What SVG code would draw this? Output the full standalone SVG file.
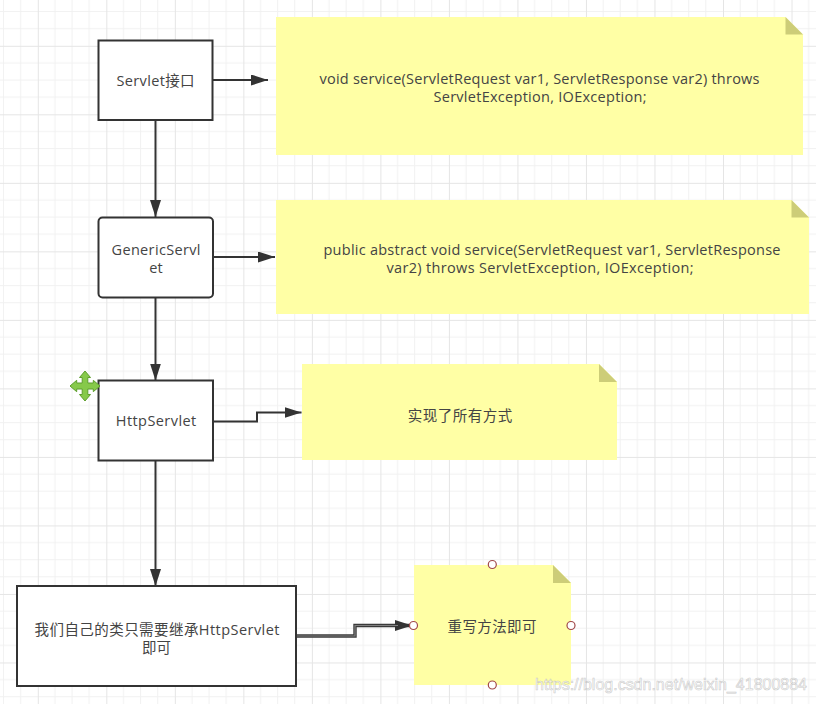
<svg xmlns="http://www.w3.org/2000/svg" width="816" height="704" viewBox="0 0 816 704">
<defs>
<style>
.box{fill:#ffffff;stroke:#333333;stroke-width:2}
.note{fill:#ffffa5}
.fold{fill:#cdcd78}
.t{font-family:"Open Sans","Noto Sans CJK SC",sans-serif;font-size:14.5px;fill:#444444;text-anchor:middle}
.edge{fill:none;stroke:#333333;stroke-width:2}
.handle{fill:#ffffff;stroke:#a04848;stroke-width:1.2}
</style>
<pattern id="grid" patternUnits="userSpaceOnUse" x="37.8" y="45.8" width="68.52" height="68.52">
<path d="M17.13 0V68.52M34.26 0V68.52M51.39 0V68.52M0 17.13H68.52M0 34.26H68.52M0 51.39H68.52" stroke="#f1f1f1" stroke-width="1" fill="none"/>
<path d="M0.5 0V68.52M0 0.5H68.52" stroke="#e5e5e5" stroke-width="1" fill="none"/>
</pattern>
<marker id="arrow" markerUnits="userSpaceOnUse" markerWidth="17" markerHeight="11" refX="17" refY="5.5" orient="auto">
<path d="M0,0 L17,5.5 L0,11 Z" fill="#333333"/>
</marker>
</defs>
<rect width="816" height="704" fill="#ffffff"/>
<rect width="816" height="704" fill="url(#grid)"/>

<g id="connectors">
<path class="edge" d="M213,80 H268" marker-end="url(#arrow)"/>
<path class="edge" d="M155.5,120 V217" marker-end="url(#arrow)"/>
<path class="edge" d="M213,257 H275" marker-end="url(#arrow)"/>
<path class="edge" d="M155.5,298 V380.5" marker-end="url(#arrow)"/>
<path class="edge" d="M213,421.5 H257 V412.5 H301.5" marker-end="url(#arrow)"/>
<path class="edge" d="M155.5,461 V586" marker-end="url(#arrow)"/>
<path d="M296,636 H355 V625.5 H412" fill="none" stroke="#3a3a3a" stroke-width="3.4" marker-end="url(#arrow)"/>
<path d="M296,636 H355 V625.5 H398" fill="none" stroke="#808080" stroke-width="1.2"/>
</g>

<g id="node-servlet">
<rect class="box" x="98.5" y="40.5" width="114" height="79.5"/>
<text class="t" x="155.5" y="85.5" textLength="78" lengthAdjust="spacing">Servlet接口</text>
</g>

<g id="note-servlet">
<path class="note" d="M276,17 H785.5 L803,34.5 V155 H276 Z"/>
<path class="fold" d="M785.5,17 L803,34.5 H785.5 Z"/>
<text class="t" x="539.5" y="84" textLength="440" lengthAdjust="spacing">void service(ServletRequest var1, ServletResponse var2) throws</text>
<text class="t" x="540" y="102" textLength="213" lengthAdjust="spacing">ServletException, IOException;</text>
</g>

<g id="node-generic">
<rect class="box" x="98.5" y="217.5" width="114.5" height="80" rx="4" ry="4"/>
<text class="t" x="156" y="255" textLength="89" lengthAdjust="spacing">GenericServl</text>
<text class="t" x="156" y="273">et</text>
</g>

<g id="note-generic">
<path class="note" d="M276,200 H791.5 L809,217.5 V314 H276 Z"/>
<path class="fold" d="M791.5,200 L809,217.5 H791.5 Z"/>
<text class="t" x="552" y="255" textLength="457" lengthAdjust="spacing">public abstract void service(ServletRequest var1, ServletResponse</text>
<text class="t" x="540" y="273" textLength="307" lengthAdjust="spacing">var2) throws ServletException, IOException;</text>
</g>

<g id="node-http">
<rect class="box" x="98.5" y="380.5" width="114.5" height="80"/>
<text class="t" x="156" y="425.5" textLength="80.5" lengthAdjust="spacing">HttpServlet</text>
</g>

<g id="move-icon">
<path d="M85,371 L90.5,377.5 L87.8,377.5 L87.8,383 L93.3,383 L93.3,380.3 L100,386 L93.3,391.7 L93.3,389 L87.8,389 L87.8,394.5 L90.5,394.5 L85,401 L79.5,394.5 L82.2,394.5 L82.2,389 L76.7,389 L76.7,391.7 L70,386 L76.7,380.3 L76.7,383 L82.2,383 L82.2,377.5 L79.5,377.5 Z" fill="#86c94a" stroke="#5d9e2c" stroke-width="1"/>
</g>

<g id="note-http">
<path class="note" d="M302,364 H599 L617,382 V460 H302 Z"/>
<path class="fold" d="M599,364 L617,382 H599 Z"/>
<text class="t" x="460" y="420.5" textLength="104.5" lengthAdjust="spacing">实现了所有方式</text>
</g>

<g id="node-own">
<rect class="box" x="17" y="586" width="279" height="100"/>
<text class="t" x="157" y="634.5" textLength="245" lengthAdjust="spacing">我们自己的类只需要继承HttpServlet</text>
<text class="t" x="156.5" y="652.5">即可</text>
</g>

<g id="note-own">
<path class="note" d="M414,565 H553 L571,583 V685 H414 Z"/>
<path class="fold" d="M553,565 L571,583 H553 Z"/>
<text class="t" x="492" y="631.5" textLength="89" lengthAdjust="spacing">重写方法即可</text>
<circle class="handle" cx="492.3" cy="564.5" r="4"/>
<circle class="handle" cx="413.5" cy="625.5" r="4"/>
<circle class="handle" cx="571" cy="625.5" r="4"/>
<circle class="handle" cx="492.3" cy="685" r="4"/>
</g>

<g id="watermark">
<text x="535" y="690" font-family="'Liberation Sans',Arial,sans-serif" font-size="16" textLength="272" lengthAdjust="spacing" fill="#ffffff" fill-opacity="0.8" stroke="#b4b4b4" stroke-opacity="0.7" stroke-width="0.6">https://blog.csdn.net/weixin_41800884</text>
</g>
</svg>
